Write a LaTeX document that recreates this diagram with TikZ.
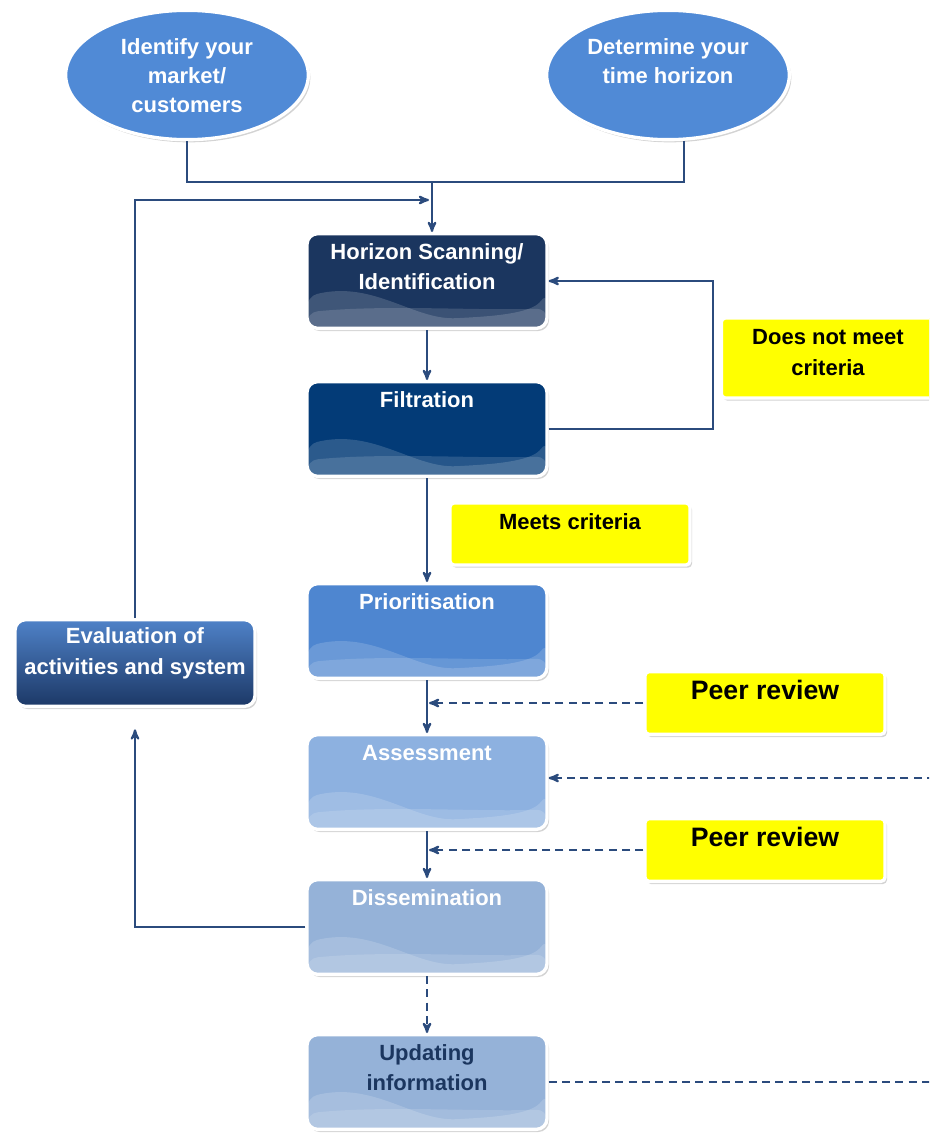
\documentclass[tikz,border=0pt]{standalone}
\usepackage{fontspec}
\setmainfont{Liberation Sans}
\usetikzlibrary{arrows,shapes.geometric,shadows}
\definecolor{linkblue}{HTML}{2B4B7D}
\definecolor{ovalblue}{HTML}{508AD6}
\definecolor{navyA}{HTML}{1B365F}
\definecolor{navyB}{HTML}{033B77}
\definecolor{blueA}{HTML}{4E86D0}
\definecolor{blueB}{HTML}{8DB1E0}
\definecolor{blueC}{HTML}{95B2D8}
\definecolor{evaltop}{HTML}{4F82C8}
\definecolor{evalbot}{HTML}{1C3866}
\definecolor{notefill}{HTML}{FFFF00}
\newcommand{\stack}[1]{\begin{tabular}[t]{@{}c@{}}#1\end{tabular}}

\begin{document}
\begin{tikzpicture}
[->,>=stealth',x=0.75pt,y=-0.75pt]
\tikzstyle{label font}=[font=\bfseries\fontsize{16.5}{23}\selectfont]
\tikzstyle{oval}=[ellipse,font=\bfseries\fontsize{16.5}{21.5}\selectfont,fill=ovalblue,draw=white,line width=2.5pt,text=white,
  minimum width=182pt,minimum height=97pt,text height=12pt,text depth=42pt,
  drop shadow={shadow xshift=1.5pt,shadow yshift=-2pt,opacity=0.35}]
\tikzstyle{proc}=[rectangle,rounded corners=8pt,label font,draw=white,line width=2.5pt,text=white,
  minimum width=180pt,inner xsep=3pt,inner ysep=7pt,text height=12pt,text depth=45pt,
  drop shadow={shadow xshift=1.5pt,shadow yshift=-2pt,opacity=0.35}]
\tikzstyle{wave}=[path picture={
  \fill[white,opacity=0.16] ([yshift=24pt]path picture bounding box.south west)
    .. controls +(50pt,12pt) and +(-40pt,-2pt) .. ([xshift=-60pt,yshift=8pt]path picture bounding box.south east)
    .. controls +(30pt,2pt) and +(-10pt,-14pt) .. ([yshift=27pt]path picture bounding box.south east)
    |- (path picture bounding box.south west) -- cycle;
  \fill[white,opacity=0.14] ([yshift=12pt]path picture bounding box.south west)
    .. controls +(60pt,6pt) and +(-50pt,-2pt) .. ([yshift=15pt]path picture bounding box.south east)
    |- (path picture bounding box.south west) -- cycle;}]
\tikzstyle{note}=[rectangle,rounded corners=3pt,label font,fill=notefill,draw=white,line width=2.5pt,
  text=black,minimum width=180pt,inner ysep=8pt,text height=12pt,
  drop shadow={shadow xshift=1.5pt,shadow yshift=-2pt,opacity=0.35}]
\tikzstyle{peer}=[note,font=\bfseries\fontsize{20}{24}\selectfont,inner ysep=6pt,text height=15pt,text depth=20pt]
\tikzstyle{link}=[draw=linkblue,line width=1.6pt]
\tikzstyle{dlink}=[link,dash pattern=on 6pt off 4pt]

\clip (0,0) rectangle (929,1138);

\node[oval] (market) at (187,75) {\stack{Identify your\\market/\\customers}};
\node[oval] (horizon) at (668,75) {\stack{Determine your\\time horizon}};
\node[proc,wave,fill=navyA] (scan) at (427,281) {\stack{Horizon Scanning/\\Identification}};
\node[proc,wave,fill=navyB] (filt) at (427,429) {Filtration};
\node[proc,wave,fill=blueA] (prio) at (427,631) {Prioritisation};
\node[proc,wave,fill=blueB] (asse) at (427,782) {Assessment};
\node[proc,wave,fill=blueC] (diss) at (427,927) {Dissemination};
\node[proc,wave,fill=blueC,text=navyA] (upd) at (427,1082) {\stack{Updating\\information}};
\node[proc,top color=evaltop,bottom color=evalbot,inner ysep=6pt,text depth=41pt] (eval) at (135,663) {\stack{Evaluation of\\activities and system}};
\node[note,minimum width=160pt,text depth=32pt] (nomeet) at (828,358) {\stack{Does not meet\\criteria}};
\node[note,text depth=18.5pt] (meets) at (570,534) {Meets criteria};
\node[peer] (peer1) at (765,703) {Peer review};
\node[peer] (peer2) at (765,850) {Peer review};

\coordinate (join) at (432,182);
\coordinate (back) at (429,200);
\coordinate (rim1) at (935,778);
\coordinate (rim2) at (935,1080);

\draw[link,-] (market.south) |- (join) -| ([xshift=12pt]horizon.south);
\draw[link] (join) -- (join |- scan.north);
\draw[link] (filt.east) -- ++(164,0) |- (scan.east);
\draw[link] (eval.north) |- (back);
\draw[link] (diss.west) -| ([yshift=-16pt]eval.south);

\path
(scan) edge [link] (filt)

(filt) edge [link] (prio)

(prio) edge [link] (asse)

(asse) edge [link] (diss)

(peer1) edge [dlink,shorten >=1.5pt] (peer1 -| prio)

(peer2) edge [dlink,shorten >=1.5pt] (peer2 -| asse)

(rim1) edge [dlink] (asse.east |- rim1)

(diss) edge [dlink] (upd)

(upd.east) edge [dlink,-] (upd.east -| rim2)
;\end{tikzpicture}
\end{document}
